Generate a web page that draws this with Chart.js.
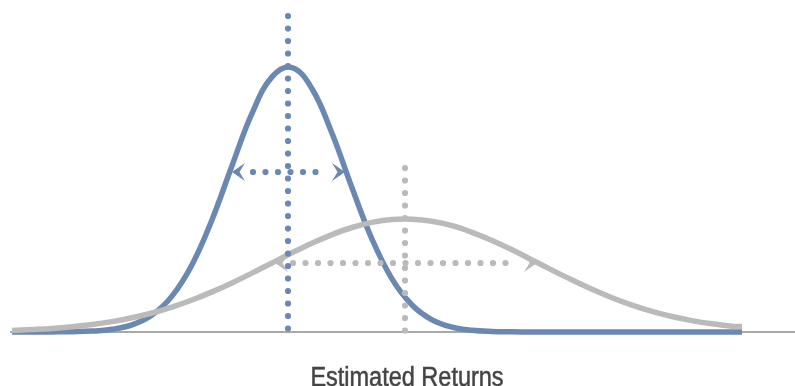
<!DOCTYPE html>
<html>
<head>
<meta charset="utf-8">
<script src="https://cdn.jsdelivr.net/npm/chart.js@4/dist/chart.umd.min.js"></script>
<style>
  html, body { margin: 0; padding: 0; background: #fff; overflow: hidden; }
  #wrap { width: 795px; height: 386px; }
</style>
</head>
<body>
<div id="wrap"><canvas id="chart"></canvas></div>
<script>
// x positions along the returns axis (arbitrary units)
const xValues = [0, 20, 40, 60, 80, 100, 120, 140, 160, 180, 200, 220, 240, 260, 280, 300, 320, 340, 360, 380,
  400, 420, 440, 460, 480, 500, 520, 540, 560, 580, 600, 620, 640, 660, 680, 700, 720, 730];

// narrow distribution (blue)
const blueValues = [0, 0, 0.1, 0.3, 0.9, 2.7, 7.1, 16.9, 35.9, 67.3, 112.3, 166.3, 218.6, 255.1, 264.4, 243.3,
  198.7, 144.2, 92.9, 53.1, 27.0, 12.2, 4.9, 1.7, 0.5, 0.2, 0, 0, 0, 0, 0, 0, 0, 0, 0, 0, 0, 0];

// wide distribution (gray)
const grayValues = [1.5, 2.4, 3.5, 5.2, 7.4, 10.4, 14.2, 19.0, 24.9, 32.0, 40.1, 49.1, 58.9, 69.0, 79.2, 88.8,
  97.4, 104.5, 109.6, 112.5, 112.8, 110.7, 106.3, 99.7, 91.5, 82.2, 72.1, 61.9, 52.0, 42.7, 34.3, 26.9, 20.7,
  15.5, 11.4, 8.2, 5.8, 5.5];

// mean markers: [x, top]
const blueMean = [276, 316];
const grayMean = [393, 164];

// spread arrows: [left tip, right tip, y], dotted part [from, to]
const blueSpread = [220, 333, 160];
const blueSpreadDots = [241, 316];
const graySpread = [263, 525, 69];
const graySpreadDots = [281, 505];

const axisRange = [-2, 783];
const titleText = 'Estimated Returns';

const BLUE = '#6a88b1';
const GRAY = '#bababa';

function chevron(color) {
  const c = document.createElement('canvas');
  c.width = 30; c.height = 30;
  const g = c.getContext('2d');
  g.fillStyle = color;
  g.beginPath();
  g.moveTo(15, 15);
  g.lineTo(2, 6);
  g.lineTo(7.5, 15);
  g.lineTo(2, 24);
  g.closePath();
  g.fill();
  return c;
}

const pts = (xs, ys) => xs.map((x, i) => ({ x: x, y: ys[i] }));

const dotted = (color) => ({
  showLine: true,
  borderColor: color,
  borderWidth: 6.2,
  borderDash: [0, 12.5],
  borderCapStyle: 'round',
  pointRadius: 0,
  clip: false
});

const arrows = (spread, color) => ({
  data: [{ x: spread[0], y: spread[2] }, { x: spread[1], y: spread[2] }],
  showLine: false,
  pointStyle: chevron(color),
  pointRotation: [180, 0],
  pointRadius: 6,
  clip: false
});

// condensed title drawn under the plot
const titlePlugin = {
  id: 'narrowTitle',
  afterDraw(chart) {
    const ctx = chart.ctx;
    ctx.save();
    ctx.font = '27px "Liberation Sans", Arial, sans-serif';
    ctx.fillStyle = '#444444';
    ctx.strokeStyle = '#444444';
    ctx.lineWidth = 0.5;
    ctx.textAlign = 'center';
    ctx.textBaseline = 'alphabetic';
    ctx.translate(407, 385.5);
    ctx.scale(0.87, 1);
    ctx.fillText(titleText, 0, 0);
    ctx.strokeText(titleText, 0, 0);
    ctx.restore();
  }
};

new Chart(document.getElementById('chart'), {
  type: 'scatter',
  data: {
    datasets: [
      { // baseline
        data: [{ x: axisRange[0], y: 0 }, { x: axisRange[1], y: 0 }],
        showLine: true, borderColor: '#8c8c8c', borderWidth: 1.5, pointRadius: 0, clip: false, order: 9
      },
      {
        data: pts(xValues, blueValues),
        showLine: true, borderColor: BLUE, borderWidth: 5.5, tension: 0.4, pointRadius: 0, clip: false, order: 8
      },
      {
        data: pts(xValues, grayValues),
        showLine: true, borderColor: GRAY, borderWidth: 5.5, tension: 0.4, pointRadius: 0, clip: false, order: 7
      },
      Object.assign(dotted(BLUE), { data: [{ x: blueMean[0], y: blueMean[1] }, { x: blueMean[0], y: 0 }], order: 3 }),
      Object.assign(dotted(GRAY), { data: [{ x: grayMean[0], y: grayMean[1] }, { x: grayMean[0], y: 0 }], order: 4 }),
      Object.assign(dotted(BLUE), { data: [{ x: blueSpreadDots[0], y: blueSpread[2] }, { x: blueSpreadDots[1], y: blueSpread[2] }], order: 3 }),
      Object.assign(dotted(GRAY), { data: [{ x: graySpreadDots[0], y: graySpread[2] }, { x: graySpreadDots[1], y: graySpread[2] }], order: 4 }),
      Object.assign(arrows(blueSpread, BLUE), { order: 3 }),
      Object.assign(arrows(graySpread, GRAY), { order: 4 })
    ]
  },
  options: {
    responsive: true,
    maintainAspectRatio: false,
    animation: false,
    layout: { autoPadding: false, padding: { left: 0, right: 0, top: 0, bottom: 54 } },
    scales: {
      x: { type: 'linear', min: -12, max: 783, display: false },
      y: { type: 'linear', min: 0, max: 332, display: false }
    },
    plugins: {
      legend: { display: false },
      tooltip: { enabled: false },
      title: { display: false }
    }
  },
  plugins: [titlePlugin]
});
</script>
</body>
</html>
